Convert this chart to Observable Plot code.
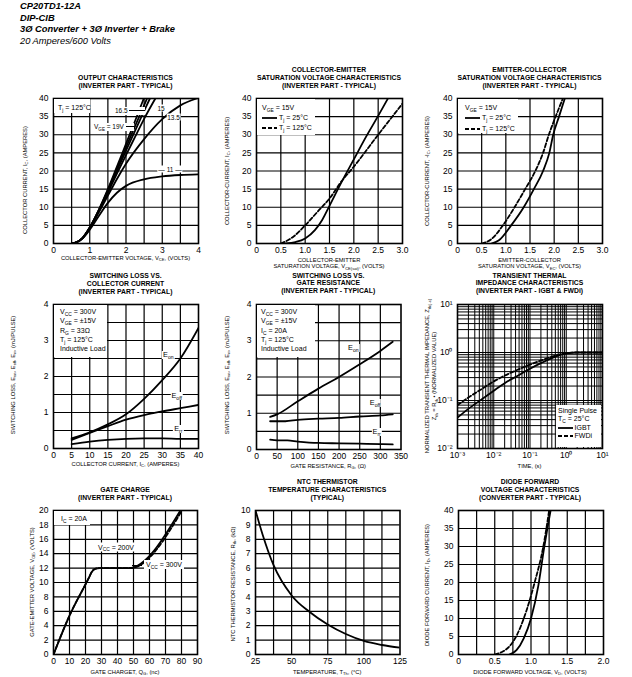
<!DOCTYPE html>
<html><head><meta charset="utf-8">
<script src="https://cdn.jsdelivr.net/npm/d3@7"></script>
<script src="https://cdn.jsdelivr.net/npm/@observablehq/plot@0.6"></script>
<style>
body{margin:0;background:#fff;font-family:"Liberation Sans",Arial,Helvetica,sans-serif;color:#000;}
#page{position:relative;width:632px;height:677px;overflow:hidden;background:#fff;}
.hdr{position:absolute;left:20px;font-size:9.3px;font-style:italic;font-weight:bold;line-height:11.7px;white-space:nowrap;}
.ttl{position:absolute;font-weight:bold;font-size:6.8px;line-height:7.7px;text-align:center;white-space:nowrap;transform:translateX(-50%);}
.xl{position:absolute;font-size:5.8px;white-space:nowrap;text-align:center;line-height:6.7px;transform:translate(-50%,-50%);}
.yl{position:absolute;font-size:5.8px;white-space:nowrap;text-align:center;line-height:6.7px;transform:translate(-50%,-50%) rotate(-90deg);}
.box{position:absolute;background:#fff;}
.t{position:absolute;white-space:nowrap;font-size:7px;line-height:8px;transform:translateY(-50%);}
.c{position:absolute;white-space:nowrap;font-size:6.5px;line-height:7px;transform:translate(-50%,-50%);background:#fff;padding:0 1px;}
.e{font-size:7.3px;line-height:8px;}
sub{font-size:70%;vertical-align:-1.6px;line-height:0;}
svg.plot{position:absolute;overflow:visible;}
</style></head>
<body><div id="page"></div>
<script>
// ---------- DATA ----------
// Output characteristics, Tj=125°C : [VCE (V), IC (A)]
const out19   = [[0.5,0],[0.65,0.4],[0.8,1.5],[1,4.4],[1.25,9.3],[1.5,15],[1.75,21.2],[2,27.5],[2.25,33.8],[2.49,40]];
const out17_5 = [[0.5,0],[0.65,0.4],[0.8,1.5],[1,4.4],[1.25,9.2],[1.5,14.7],[1.75,20.6],[2,26.5],[2.25,32.4],[2.58,40]];
const out16_5 = [[0.5,0],[0.65,0.4],[0.8,1.5],[1,4.4],[1.25,9.1],[1.5,14.4],[1.75,20],[2,25.6],[2.25,31.1],[2.5,36.6],[2.66,40]];
const out15   = [[0.5,0],[0.65,0.4],[0.8,1.5],[1,4.3],[1.25,8.9],[1.5,14],[1.75,19.3],[2,24.4],[2.25,29.4],[2.5,34.4],[2.81,40]];
const out13_5 = [[0.5,0],[0.65,0.4],[0.8,1.5],[1,4.2],[1.25,8.6],[1.5,13.2],[1.75,17.8],[2,22],[2.5,28.8],[3,34.3],[3.5,38.1],[3.95,40]];
const out11   = [[0.5,0],[0.65,0.4],[0.8,1.4],[1,3.8],[1.25,7.6],[1.5,11.2],[1.75,14],[2,15.9],[2.5,17.7],[3,18.5],[3.5,18.9],[4,19.1]];
// Collector-emitter saturation: [VCE(sat), IC]
const ce25  = [[0.6,0],[0.8,0.4],[1,1.4],[1.2,3.7],[1.35,6.5],[1.5,10.4],[1.75,17],[2,23.2],[2.25,29.4],[2.5,35.2],[2.7,40]];
const ce125 = [[0.5,0],[0.75,1.8],[1,5],[1.25,8.7],[1.5,12.4],[1.75,17.2],[2,21.2],[2.5,30],[3,38.6]];
// Emitter-collector saturation: [VEC, -IC]
const ec25  = [[0.7,0],[0.85,0.8],[1.11,5],[1.37,10],[1.58,15],[1.77,20],[1.9,25],[1.98,30],[2.1,35],[2.22,40]];
const ec125 = [[0.5,0],[0.7,1.2],[0.94,5],[1.18,10],[1.4,15],[1.61,20],[1.77,25],[1.89,30],[2.03,35],[2.18,40]];
// Switching loss vs collector current: [IC, mJ]
const eonIc  = [[5,0.28],[10,0.45],[15,0.67],[20,0.95],[25,1.38],[30,1.9],[35,2.5],[40,3.35]];
const eoffIc = [[5,0.24],[10,0.43],[15,0.62],[20,0.8],[25,0.93],[30,1.03],[35,1.12],[40,1.21]];
const errIc  = [[5,0.12],[10,0.19],[15,0.24],[20,0.27],[25,0.28],[30,0.28],[35,0.27],[40,0.27]];
// Switching loss vs gate resistance: [RG, mJ]
const eonRg  = [[33,0.9],[50,0.97],[100,1.33],[150,1.68],[200,2.0],[250,2.35],[300,2.72],[330,2.97]];
const eoffRg = [[33,0.78],[70,0.78],[100,0.82],[150,0.85],[200,0.87],[250,0.91],[300,0.94],[330,0.97]];
const errRg  = [[33,0.27],[50,0.25],[75,0.25],[100,0.22],[150,0.18],[200,0.17],[250,0.16],[300,0.15],[330,0.14]];
// Transient thermal impedance: [time s, normalized Zth]
const zthIgbt = [[1e-3,0.044],[2e-3,0.067],[5e-3,0.11],[1e-2,0.16],[2e-2,0.23],[5e-2,0.34],[1e-1,0.46],[2e-1,0.6],[5e-1,0.82],[1,0.96],[2,1],[10,1]];
const zthFwdi = [[1e-3,0.08],[2e-3,0.115],[5e-3,0.18],[1e-2,0.25],[2e-2,0.33],[5e-2,0.45],[1e-1,0.56],[2e-1,0.68],[5e-1,0.86],[1,0.97],[2,1],[10,1]];
// Gate charge: [QG nC, VGE V]
const gate200 = [[0,0],[10,5.4],[22,10.6],[24,11.5],[26,11.9],[29,12],[47,12],[79.3,20]];
const gate300 = [[0,0],[10,5.4],[22,10.6],[24,11.5],[26,11.9],[29,12],[48,12],[80.3,20]];
// NTC thermistor
const ntcTemp = [25,30,37.5,50,62.5,75,87.5,100,112.5,125];
const ntcRes  = [10,8.3,6.2,4.1,2.95,2.08,1.42,0.94,0.66,0.47];
// Diode forward: [VD, ID]
const df25  = [[0.7,0],[0.8,1.2],[0.9,4.5],[1,10],[1.1,19],[1.18,29.5],[1.27,40]];
const df125 = [[0.5,0],[0.6,0.7],[0.7,2.2],[0.8,5.2],[0.9,10],[1.05,20],[1.17,30],[1.25,40]];
// Tick labels
const ticksV4 = [0,1,2,3,4];
const ticksI40 = [0,5,10,15,20,25,30,35,40];
const ticksV3 = [0,0.5,1,1.5,2,2.5,3];
const ticksIc40 = [0,5,10,15,20,25,30,35,40];
const ticksE4 = [0,1,2,3,4];
const ticksRg = [0,50,100,150,200,250,300,350];
const ticksTime = [1e-3,1e-2,1e-1,1,10];
const ticksZth = [1e-2,1e-1,1,10];
const ticksQg = [0,10,20,30,40,50,60,70,80,90];
const ticksVge = [0,2,4,6,8,10,12,14,16,18,20];
const ticksTemp = [25,50,75,100,125];
const ticksRth = [0,1,2,3,4,5,6,7,8,9,10];
const ticksVd = [0,0.5,1,1.5,2];

// ---------- helpers ----------
const page = document.getElementById("page");
function el(cls, html, css){const d=document.createElement("div");d.className=cls;d.innerHTML=html;Object.assign(d.style,css);page.appendChild(d);return d;}
const FONT='"Liberation Sans",Arial,Helvetica,sans-serif';
const sup={"-":"⁻","0":"⁰","1":"¹","2":"²","3":"³"};
const pow10 = d => "10"+String(Math.round(Math.log10(d))).split("").map(c=>sup[c]).join("");
const f1 = d => d===0 ? "0" : d.toFixed(1);
function logGrid(e0,e1){const g=[];for(let e=e0;e<e1;e++)for(let k=1;k<10;k++){const v=k*Math.pow(10,e);if(k>1||e>e0)g.push(v);}return g;}

function panel(c){
  const ml=34, mr=10, mt=8, mb=18;
  const marks=[
    Plot.ruleX(c.xGrid,{stroke:"#000",strokeWidth:c.gw||1.2}),
    Plot.ruleY(c.yGrid,{stroke:"#000",strokeWidth:c.gw||1.2}),
    ...c.series.map(s=>Plot.line(s.data,{x:d=>d[0],y:d=>d[1],stroke:"#000",strokeWidth:1.8,curve:"monotone-x",clip:true,...(s.dash?{strokeDasharray:"4,2.2"}:{})})),
    Plot.frame({stroke:"#000",strokeWidth:1.6}),
    Plot.axisX(c.xTicks,{tickSize:0,tickPadding:3.5,tickFormat:c.xFmt||(d=>String(d)),label:null,fontSize:8.5}),
    Plot.axisY(c.yTicks,{tickSize:0,tickPadding:5,tickFormat:c.yFmt||(d=>String(d)),label:null,fontSize:8.5})
  ];
  const svg=Plot.plot({
    width:c.fw+ml+mr,height:c.fh+mt+mb,marginLeft:ml,marginRight:mr,marginTop:mt,marginBottom:mb,
    x:{type:c.xType||"linear",domain:c.xd},
    y:{type:c.yType||"linear",domain:c.yd},
    style:{fontFamily:FONT,fontSize:"8.5px",color:"#000",background:"transparent",overflow:"visible"},
    marks
  });
  svg.classList.add("plot");
  svg.style.left=(c.fx-ml)+"px"; svg.style.top=(c.fy-mt)+"px";
  page.appendChild(svg);
  const n=c.title.length;
  el("ttl",c.title.join("<br>"),{left:(c.fx+c.fw/2)+"px",top:(c.fy-12.5-(n-0.5)*7.7)+"px"});
  el("xl",c.xLabel,{left:(c.fx+c.fw/2)+"px",top:c.xLy+"px"});
  el("yl",c.yLabel,{left:c.yLx+"px",top:(c.yLy||(c.fy+c.fh/2))+"px"});
}
const samp = dash => `<svg width="15" height="4" style="vertical-align:middle;margin-right:2px"><line x1="0" y1="2" x2="15" y2="2" stroke="#000" stroke-width="1.8" ${dash?'stroke-dasharray="4,2"':''}/></svg>`;
function box(x1,y1,x2,y2){el("box","",{left:x1+"px",top:y1+"px",width:(x2-x1)+"px",height:(y2-y1)+"px"});}
function t(html,x,y,css){el("t",html,Object.assign({left:x+"px",top:y+"px"},css||{}));}
function c(html,x,y,css,cls){el("c"+(cls?" "+cls:""),html,Object.assign({left:x+"px",top:y+"px"},css||{}));}

// ---------- header ----------
el("hdr","CP20TD1-12A",{top:"0.8px"});
el("hdr","DIP-CIB",{top:"12.5px"});
el("hdr","3Ø Converter + 3Ø Inverter + Brake",{top:"24.2px"});
el("hdr","20 Amperes/600 Volts",{top:"35.9px",fontWeight:"normal"});

// ---------- panels ----------
panel({fx:53,fy:98,fw:145,fh:145,xd:[0,4],yd:[0,40],xTicks:ticksV4,yTicks:ticksI40,
  xGrid:d3.range(0.5,4,0.5),yGrid:d3.range(5,40,5),
  series:[{data:out19},{data:out17_5},{data:out16_5},{data:out15},{data:out13_5},{data:out11}],
  title:["OUTPUT CHARACTERISTICS","(INVERTER PART - TYPICAL)"],
  xLabel:"COLLECTOR-EMITTER VOLTAGE, V<sub>CE</sub>, (VOLTS)",xLy:258,
  yLabel:"COLLECTOR CURRENT, I<sub>C</sub>, (AMPERES)",yLx:25,yLy:180});
panel({fx:256,fy:98,fw:146,fh:145,xd:[0,3],yd:[0,40],xTicks:ticksV3,yTicks:ticksI40,xFmt:f1,
  xGrid:d3.range(0.5,3,0.5),yGrid:d3.range(5,40,5),
  series:[{data:ce25},{data:ce125,dash:true}],
  title:["COLLECTOR-EMITTER","SATURATION VOLTAGE CHARACTERISTICS","(INVERTER PART - TYPICAL)"],
  xLabel:"COLLECTOR-EMITTER<br>SATURATION VOLTAGE, V<sub>CE(sat)</sub>, (VOLTS)",xLy:263.5,
  yLabel:"COLLECTOR-CURRENT, I<sub>C</sub>, (AMPERES)",yLx:226.7});
panel({fx:457,fy:98,fw:145,fh:145,xd:[0,3],yd:[0,40],xTicks:ticksV3,yTicks:ticksI40,xFmt:f1,
  xGrid:d3.range(0.5,3,0.5),yGrid:d3.range(5,40,5),
  series:[{data:ec25},{data:ec125,dash:true}],
  title:["EMITTER-COLLECTOR","SATURATION VOLTAGE CHARACTERISTICS","(INVERTER PART - TYPICAL)"],
  xLabel:"EMITTER-COLLECTOR<br>SATURATION VOLTAGE, V<sub>EC</sub>, (VOLTS)",xLy:263.5,
  yLabel:"COLLECTOR-CURRENT, -I<sub>C</sub>, (AMPERES)",yLx:427.3});
panel({fx:53,fy:304,fw:145,fh:144,xd:[0,40],yd:[0,4],xTicks:ticksIc40,yTicks:ticksE4,
  xGrid:d3.range(5,40,5),yGrid:d3.range(0.5,4,0.5),
  series:[{data:eonIc},{data:eoffIc},{data:errIc}],
  title:["SWITCHING LOSS VS.","COLLECTOR CURRENT","(INVERTER PART - TYPICAL)"],
  xLabel:"COLLECTOR CURRENT, I<sub>C</sub>, (AMPERES)",xLy:464.3,
  yLabel:"SWITCHING LOSS, E<sub>on</sub>, E<sub>off</sub>, E<sub>rr</sub>, (mJ/PULSE)",yLx:12.5,yLy:375});
panel({fx:256,fy:303.5,fw:144.5,fh:145,xd:[0,350],yd:[0,4],xTicks:ticksRg,yTicks:ticksE4,
  xGrid:d3.range(50,350,50),yGrid:d3.range(0.5,4,0.5),
  series:[{data:eonRg},{data:eoffRg},{data:errRg}],
  title:["SWITCHING LOSS VS.","GATE RESISTANCE","(INVERTER PART - TYPICAL)"],
  xLabel:"GATE RESISTANCE, R<sub>G</sub>, (Ω)",xLy:465.7,
  yLabel:"SWITCHING LOSS, E<sub>on</sub>, E<sub>off</sub>, E<sub>rr</sub>, (mJ/PULSE)",yLx:226.7,yLy:375});
panel({fx:457,fy:303.5,fw:145,fh:144,xType:"log",yType:"log",xd:[1e-3,10],yd:[1e-2,10],
  xTicks:ticksTime,yTicks:ticksZth,xFmt:pow10,yFmt:pow10,gw:1,
  xGrid:logGrid(-3,1),yGrid:logGrid(-2,1),
  series:[{data:zthIgbt},{data:zthFwdi,dash:true}],
  title:["TRANSIENT THERMAL","IMPEDANCE CHARACTERISTICS","(INVERTER PART - IGBT & FWDi)"],
  xLabel:"TIME, (s)",xLy:466,
  yLabel:"NORMALIZED TRANSIENT THERMAL IMPEDANCE, Z<sub>th(j-c)</sub><br>Z<sub>th</sub> = R<sub>th</sub> • (NORMALIZED VALUE)",yLx:430.7,yLy:376});
panel({fx:53,fy:510,fw:144,fh:144,xd:[0,90],yd:[0,20],xTicks:ticksQg,yTicks:ticksVge,
  xGrid:d3.range(10,90,10),yGrid:d3.range(2,20,2),
  series:[{data:gate200},{data:gate300,dash:true}],
  title:["GATE CHARGE","(INVERTER PART - TYPICAL)"],
  xLabel:"GATE CHARGET, Q<sub>G</sub>, (nc)",xLy:672,
  yLabel:"GATE-EMITTER VOLTAGE, V<sub>GE</sub>, (VOLTS)",yLx:31.7,yLy:582});
panel({fx:255,fy:510,fw:144.5,fh:144,xd:[25,125],yd:[0,10],xTicks:ticksTemp,yTicks:ticksRth,
  xGrid:d3.range(37.5,125,12.5),yGrid:d3.range(1,10,1),
  series:[{data:ntcTemp.map((v,i)=>[v,ntcRes[i]])}],
  title:["NTC THERMISTOR","TEMPERATURE CHARACTERISTICS","(TYPICAL)"],
  xLabel:"TEMPERATURE, T<sub>Th</sub>, (°C)",xLy:671.7,
  yLabel:"NTC THERMISTOR RESISTANCE, R<sub>th</sub>, (kΩ)",yLx:233.3,yLy:584});
panel({fx:457.5,fy:510,fw:145,fh:144,xd:[0,2],yd:[0,40],xTicks:ticksVd,yTicks:ticksI40,xFmt:f1,
  xGrid:d3.range(0.25,2,0.25),yGrid:d3.range(5,40,5),
  series:[{data:df25},{data:df125,dash:true}],
  title:["DIODE FORWARD","VOLTAGE CHARACTERISTICS","(CONVERTER PART - TYPICAL)"],
  xLabel:"DIODE FORWARD VOLTAGE, V<sub>D</sub>, (VOLTS)",xLy:671.7,
  yLabel:"DIODE FORWARD CURRENT, I<sub>D</sub>, (AMPERES)",yLx:427.3,yLy:585});

// ---------- legends & annotations ----------
// panel 1
box(54,99,90,113); t("T<sub>j</sub> = 125°C",58,108.3);
t("16.5 <span style='display:inline-block;width:16px;border-top:1px solid #000;vertical-align:middle'></span>",115,110.7,{fontSize:"6.5px",background:"#fff"});
t("V<sub>GE</sub> = 19V <span style='display:inline-block;width:8px;border-top:1px solid #000;vertical-align:middle'></span>",94,126.7,{fontSize:"6.5px",background:"#fff"});
c("15",161,108.3); c("13.5",173.5,117.3); c("— 11 —",170,169.3);
// panel 2
box(257,99,315,135);
t("V<sub>GE</sub> = 15V",262,107.7); t(samp(false)+"T<sub>j</sub> = 25°C",262,117.7); t(samp(true)+"T<sub>j</sub> = 125°C",262,127.7);
// panel 3
box(458,99,518,133);
t("V<sub>GE</sub> = 15V",465,107.7); t(samp(false)+"T<sub>j</sub> = 25°C",465,118.3); t(samp(true)+"T<sub>j</sub> = 125°C",465,129);
// panel 4
box(54,305,107,357);
["V<sub>CC</sub> = 300V","V<sub>GE</sub> = ±15V","R<sub>G</sub> = 33Ω","T<sub>j</sub> = 125°C","Inductive Load"].forEach((s,i)=>t(s,60,312+i*9.35));
c("E<sub>on</sub>",168.3,355,null,"e"); c("E<sub>off</sub>",176.7,396,null,"e"); c("E<sub>rr</sub>",178.3,429.3,null,"e");
// panel 5
box(257,304.5,315,357);
["V<sub>CC</sub> = 300V","V<sub>GE</sub> = ±15V","I<sub>C</sub> = 20A","T<sub>j</sub> = 125°C","Inductive Load"].forEach((s,i)=>t(s,261,312+i*9.35));
c("E<sub>on</sub>",353.3,348.3,null,"e"); c("E<sub>off</sub>",375,403.3,null,"e"); c("E<sub>rr</sub>",376.7,432.3,null,"e");
// panel 6
box(556,405,601,446.5);
t("Single Pulse",558,410.7); t("T<sub>C</sub> = 25°C",558,419.3); t(samp(false)+"IGBT",557.5,428.3); t(samp(true)+"FWDi",557.5,436);
// panel 7
box(54,511,90,525); t("I<sub>C</sub> = 20A",61,519.3);
c("V<sub>CC</sub> = 200V",116,546.7,{fontSize:"7px",padding:"1px 3px"});
t("<span style='display:inline-block;width:10px;border-top:1px solid #000;vertical-align:middle'></span> <span style='background:#fff;padding:1px 2px'>V<sub>CC</sub> = 300V</span>",132,565);
</script></body></html>
